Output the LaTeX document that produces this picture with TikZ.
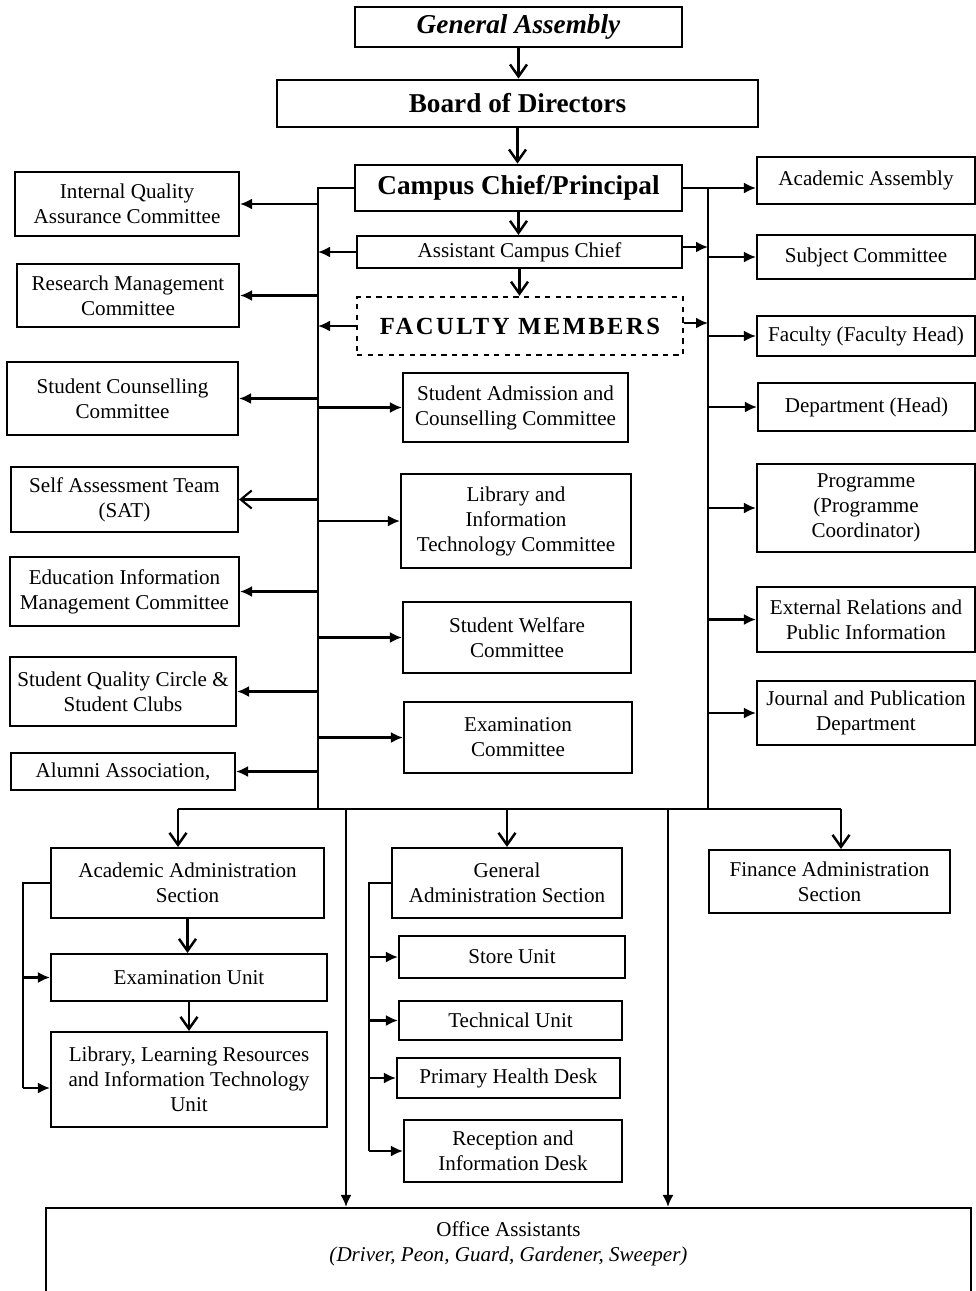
\documentclass[tikz,border=0pt]{standalone}
\usepackage{fontspec}
\setmainfont{Liberation Serif}
\usepackage{tikz}
\usetikzlibrary{arrows.meta,positioning}
\newcommand{\unitfont}{\fontsize{12}{14.2}\selectfont}
\newcommand{\headfont}{\fontsize{15.5}{18}\selectfont\bfseries}

\begin{document}
\begin{tikzpicture}
		\tikzstyle{unit} = [rectangle, draw=black, line width=1.2pt, align=center, inner sep=2pt, font=\unitfont]
		\tikzstyle{head} = [unit, line width=1.6pt, font=\headfont]
		\tikzstyle{arrow} = [line width=1.2pt, -{Latex[length=2.4mm, width=2.2mm]}]
		\tikzstyle{drop} = [line width=1.4pt, -{Straight Barb[length=2.4mm, width=3.4mm]}]
		\tikzstyle{bus} = [line width=1.2pt]
		\useasboundingbox (0,0) rectangle (19.52,-25.82);
		% governing bodies
		\node (assembly) [head, minimum width=6.54cm, minimum height=0.80cm, font=\headfont\itshape] at (10.37,-0.54) {General Assembly};
		\node (board) [head, minimum width=9.62cm, minimum height=0.94cm] at (10.35,-2.07) {Board of Directors};
		\node (chief) [head, minimum width=6.54cm, minimum height=0.92cm] at (10.37,-3.76) {Campus Chief/Principal};
		\node (assistant) [unit, minimum width=6.50cm, minimum height=0.64cm] at (10.39,-5.04) {Assistant Campus Chief};
		\node (faculty) [unit, dashed, line width=1.4pt, minimum width=6.52cm, minimum height=1.16cm, font=\fontsize{14}{16}\selectfont\bfseries\addfontfeature{LetterSpace=10}] at (10.40,-6.52) {FACULTY MEMBERS};
		% committees on the left
		\node (iqac) [unit, minimum width=4.48cm, minimum height=1.28cm] at (2.54,-4.08) {Internal Quality\\Assurance Committee};
		\node (research) [unit, minimum width=4.44cm, minimum height=1.26cm] at (2.56,-5.91) {Research Management\\Committee};
		\node (counsel) [unit, minimum width=4.62cm, minimum height=1.46cm] at (2.45,-7.97) {Student Counselling\\Committee};
		\node (sat) [unit, minimum width=4.54cm, minimum height=1.30cm] at (2.49,-9.99) {Self Assessment Team\\(SAT)};
		\node (eimc) [unit, minimum width=4.58cm, minimum height=1.38cm] at (2.49,-11.83) {Education Information\\Management Committee};
		\node (circle) [unit, minimum width=4.52cm, minimum height=1.38cm] at (2.46,-13.83) {Student Quality Circle \&\\Student Clubs};
		\node (alumni) [unit, minimum width=4.48cm, minimum height=0.74cm] at (2.46,-15.43) {Alumni Association,};
		% committees in the middle
		\node (admission) [unit, minimum width=4.50cm, minimum height=1.38cm] at (10.31,-8.15) {Student Admission and\\Counselling Committee};
		\node (libit) [unit, minimum width=4.60cm, minimum height=1.88cm] at (10.32,-10.42) {Library and\\Information\\Technology Committee};
		\node (welfare) [unit, minimum width=4.56cm, minimum height=1.42cm] at (10.34,-12.75) {Student Welfare\\Committee};
		\node (exam) [unit, minimum width=4.56cm, minimum height=1.42cm] at (10.36,-14.75) {Examination\\Committee};
		% academic bodies on the right
		\node (academic) [unit, minimum width=4.36cm, minimum height=0.94cm] at (17.32,-3.61) {Academic Assembly};
		\node (subject) [unit, minimum width=4.36cm, minimum height=0.88cm] at (17.32,-5.14) {Subject Committee};
		\node (facultyhead) [unit, minimum width=4.36cm, minimum height=0.80cm] at (17.32,-6.72) {Faculty (Faculty Head)};
		\node (department) [unit, minimum width=4.34cm, minimum height=0.96cm] at (17.33,-8.14) {Department (Head)};
		\node (programme) [unit, minimum width=4.36cm, minimum height=1.76cm] at (17.32,-10.16) {Programme\\(Programme\\Coordinator)};
		\node (external) [unit, minimum width=4.36cm, minimum height=1.30cm] at (17.32,-12.39) {External Relations and\\Public Information};
		\node (journal) [unit, minimum width=4.36cm, minimum height=1.28cm] at (17.32,-14.26) {Journal and Publication\\Department};
		% administration sections
		\node (acadmin) [unit, minimum width=5.46cm, minimum height=1.40cm] at (3.75,-17.66) {Academic Administration\\Section};
		\node (examunit) [unit, minimum width=5.52cm, minimum height=0.94cm] at (3.78,-19.55) {Examination Unit};
		\node (library) [unit, minimum width=5.52cm, minimum height=1.90cm] at (3.78,-21.59) {Library, Learning Resources\\and Information Technology\\Unit};
		\node (genadmin) [unit, minimum width=4.60cm, minimum height=1.40cm] at (10.14,-17.66) {General\\Administration Section};
		\node (store) [unit, minimum width=4.52cm, minimum height=0.84cm] at (10.24,-19.14) {Store Unit};
		\node (technical) [unit, minimum width=4.46cm, minimum height=0.78cm] at (10.21,-20.41) {Technical Unit};
		\node (health) [unit, minimum width=4.46cm, minimum height=0.80cm] at (10.17,-21.56) {Primary Health Desk};
		\node (reception) [unit, minimum width=4.36cm, minimum height=1.24cm] at (10.26,-23.02) {Reception and\\Information Desk};
		\node (finance) [unit, minimum width=4.82cm, minimum height=1.26cm] at (16.59,-17.63) {Finance Administration\\Section};
		\node (office) [unit, minimum width=18.50cm, minimum height=1.84cm] at (10.17,-25.08) {Office Assistants\\\textit{(Driver, Peon, Guard, Gardener, Sweeper)}\\\rule{0pt}{0.38cm}};
		% bus lines
		\coordinate (lbus) at (6.36,-16.18);
		\coordinate (rbus) at (14.16,-16.18);
		\coordinate (sections) at (3.56,-16.18);
		\coordinate (findrop) at (16.82,-16.18);
		\coordinate (oaleft) at (6.92,-16.18);
		\coordinate (oaright) at (13.36,-16.18);
		\coordinate (acbus) at (0.46,-17.66);
		\coordinate (gabus) at (7.38,-17.66);
		\coordinate (libin) at ([yshift=-0.17cm]library.west);
		\draw [drop] (assembly.south) -- (assembly.south |- board.north);
		\draw [drop] (board.south) -- (board.south |- chief.north);
		\draw [drop] (chief.south) -- (chief.south |- assistant.north);
		\draw [drop] (assistant.south) -- (assistant.south |- faculty.north);
		\draw [bus] (chief.west) -| (lbus);
		\draw [bus] (chief.east -| rbus) -- (rbus);
		\draw [arrow] (chief.east) -- (chief.east -| academic.west);
		\draw [arrow] (assistant.west) -- (assistant.west -| lbus);
		\draw [arrow] (faculty.west) -- (faculty.west -| lbus);
		\draw [arrow] ([yshift=0.1cm]assistant.east) -- ([yshift=0.1cm]assistant.east -| rbus);
		\draw [arrow] ([yshift=0.06cm]faculty.east) -- ([yshift=0.06cm]faculty.east -| rbus);
		\foreach \n in {iqac,research,counsel,eimc,circle,alumni}
			\draw [arrow] (lbus |- \n.east) -- (\n.east);
		\draw [line width=1.2pt, -{Straight Barb[length=2.2mm, width=3.6mm]}] (lbus |- sat.east) -- (sat.east);
		\foreach \n in {admission,libit,welfare,exam}
			\draw [arrow] (lbus |- \n.west) -- (\n.west);
		\foreach \n in {subject,facultyhead,department,programme,external,journal}
			\draw [arrow] (rbus |- \n.west) -- (\n.west);
		\draw [bus] (sections) -- (findrop);
		\draw [drop] (sections) -- (sections |- acadmin.north);
		\draw [drop] (sections -| genadmin.north) -- (genadmin.north);
		\draw [drop] (findrop) -- (findrop |- finance.north);
		\draw [arrow] (oaleft) -- (oaleft |- office.north);
		\draw [arrow] (oaright) -- (oaright |- office.north);
		\draw [drop] (acadmin.south) -- (acadmin.south |- examunit.north);
		\draw [drop] (examunit.south) -- (library.north);
		\draw [bus] (acadmin.west) -- (acbus) -- (acbus |- libin);
		\draw [arrow] (acbus |- examunit.west) -- (examunit.west);
		\draw [arrow] (acbus |- libin) -- (libin);
		\draw [bus] (genadmin.west) -- (gabus) -- (gabus |- reception.west);
		\foreach \n in {store,technical,health,reception}
			\draw [arrow] (gabus |- \n.west) -- (\n.west);
\end{tikzpicture}
\end{document}
